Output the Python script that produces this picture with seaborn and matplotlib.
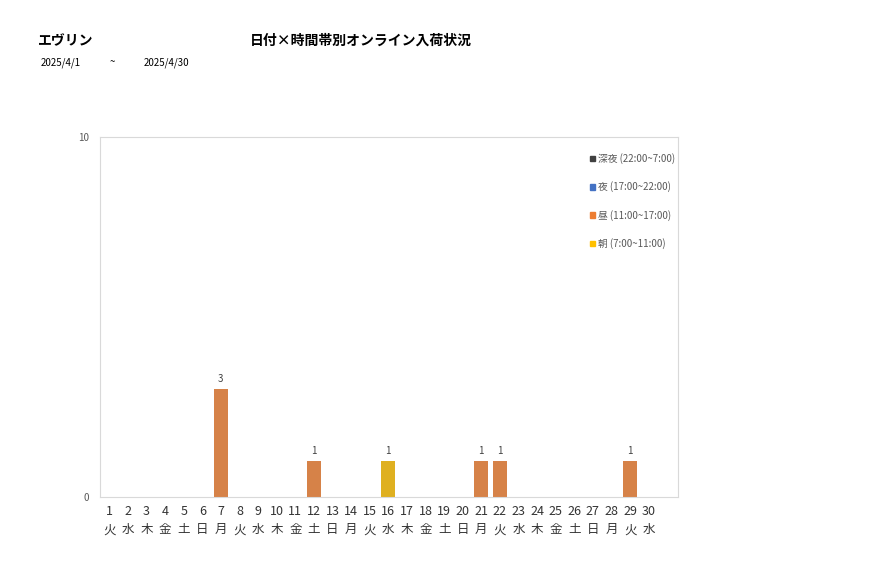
import matplotlib
matplotlib.use("Agg")
import matplotlib.pyplot as plt
import seaborn as sns
import pandas as pd
from matplotlib.patches import Patch

plt.rcParams["font.family"] = "Noto Sans CJK JP"

days = list(range(1, 31))
weekdays = ["火","水","木","金","土","日","月"] * 5
weekdays = weekdays[:30]
series = ["深夜 (22:00~7:00)", "夜 (17:00~22:00)", "昼 (11:00~17:00)", "朝 (7:00~11:00)"]
colors = ["#404040", "#4472C4", "#ED7D31", "#FFC000"]
shinya = [0]*30
yoru = [0]*30
hiru = [0,0,0,0,0,0,3,0,0,0,0,1,0,0,0,0,0,0,0,0,1,1,0,0,0,0,0,0,1,0]
asa = [0,0,0,0,0,0,0,0,0,0,0,0,0,0,0,1,0,0,0,0,0,0,0,0,0,0,0,0,0,0]

rows = []
for name, vals in zip(series, [shinya, yoru, hiru, asa]):
    for d, v in zip(days, vals):
        rows.append({"day": str(d), "series": name, "value": v})
df = pd.DataFrame(rows)

fig = plt.figure(figsize=(8.77, 5.78), dpi=100)
ax = fig.add_axes([0.114, 0.140, 0.659, 0.623])
sns.barplot(data=df, x="day", y="value", hue="series", hue_order=series,
            palette=colors, dodge=False, width=0.75, ax=ax, legend=False)
ax.set_xlim(-0.5, 30.57)
ax.set_ylim(0, 10)
ax.set_yticks([0, 10])
ax.tick_params(axis="y", length=0, labelsize=7, colors="#595959", pad=8)
ax.set_xticks(range(30))
ax.set_xticklabels([f"{d}\n{w}" for d, w in zip(days, weekdays)], fontsize=9, linespacing=1.5)
ax.tick_params(axis="x", length=0, pad=6, colors="#333333")
ax.set_xlabel(""); ax.set_ylabel("")
for s in ax.spines.values():
    s.set_color("#D9D9D9")
totals = [a+b+c+e for a, b, c, e in zip(shinya, yoru, hiru, asa)]
for i, t in enumerate(totals):
    if t > 0:
        ax.text(i, t + 0.15, str(t), ha="center", va="bottom", fontsize=7, color="#404040")

handles = [Patch(color=c, label=l) for c, l in zip(colors, series)]
ax.legend(handles=handles, loc="upper right", frameon=False, fontsize=7,
          handlelength=0.5, handleheight=0.5, handletextpad=0.3,
          labelspacing=1.8, bbox_to_anchor=(1.01, 0.98), labelcolor="#595959")

fig.text(0.043, 0.922, "エヴリン", fontsize=10, fontweight="bold")
fig.text(0.285, 0.922, "日付×時間帯別オンライン入荷状況", fontsize=10, fontweight="bold")
fig.text(0.046, 0.887, "2025/4/1", fontsize=7)
fig.text(0.125, 0.887, "~", fontsize=7)
fig.text(0.164, 0.887, "2025/4/30", fontsize=7)
fig.savefig("out.png", dpi=100)
